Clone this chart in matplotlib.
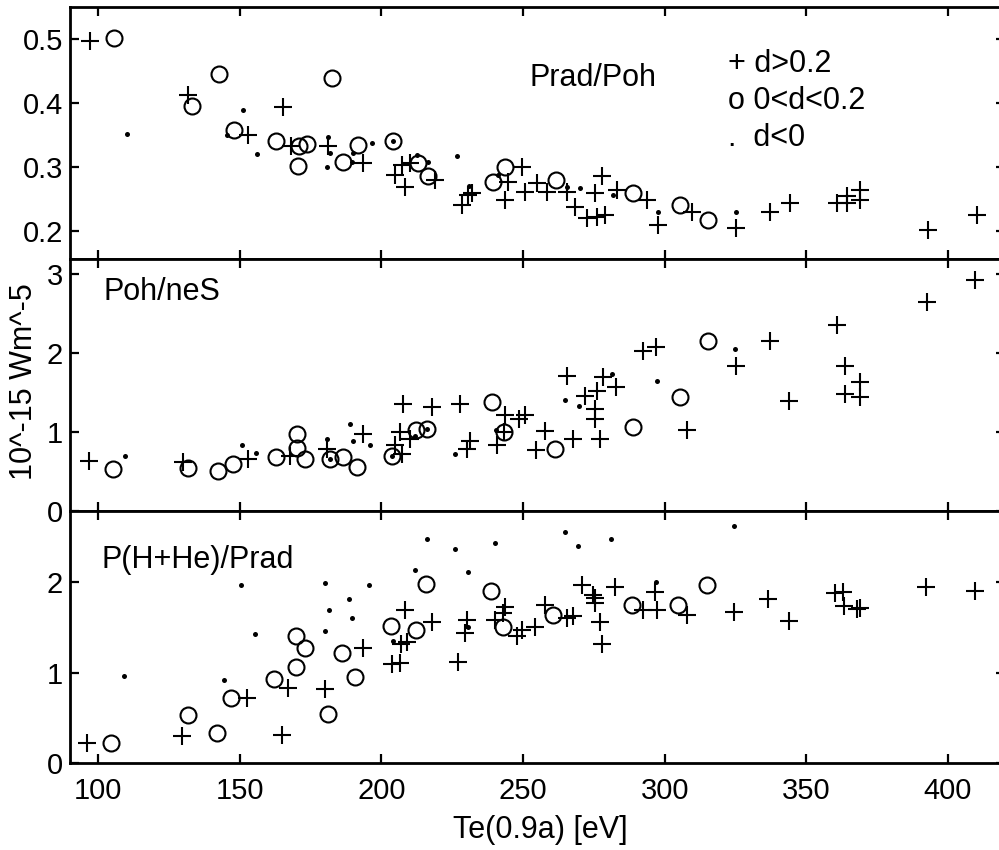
import matplotlib
matplotlib.use("Agg")
import matplotlib.pyplot as plt

plt.rcParams['font.family'] = ['Liberation Sans', 'DejaVu Sans']

# ---- Prad/Poh ----
p1_plus_te = [97.2, 131.7, 153.1, 165.4, 168.0, 181.3, 193.6, 204.8, 207.2, 208.4, 210.1, 219.0,
              228.3, 230.7, 231.9, 243.7, 244.8, 249.5, 250.7, 254.8, 258.3, 265.4, 268.4, 272.5,
              275.4, 276.0, 277.8, 278.9, 283.0, 293.7, 297.8, 309.5, 325.2, 337.2, 344.3, 360.7,
              364.2, 364.2, 369.0, 369.0, 393.0, 410.1]
p1_plus_val = [0.497, 0.412, 0.350, 0.393, 0.332, 0.333, 0.306, 0.288, 0.303, 0.269, 0.306, 0.280,
               0.241, 0.256, 0.259, 0.248, 0.277, 0.300, 0.261, 0.275, 0.261, 0.261, 0.238, 0.220,
               0.259, 0.222, 0.285, 0.225, 0.264, 0.248, 0.209, 0.230, 0.204, 0.230, 0.243, 0.243,
               0.254, 0.243, 0.264, 0.248, 0.202, 0.225]
p1_circ_te = [105.8, 133.1, 142.7, 148.1, 162.8, 170.7, 171.1, 173.9, 182.5, 186.6, 191.9, 204.2,
              213.1, 216.6, 239.3, 243.7, 261.7, 288.9, 305.4, 315.4]
p1_circ_val = [0.501, 0.395, 0.445, 0.358, 0.341, 0.302, 0.332, 0.336, 0.439, 0.308, 0.334, 0.340,
               0.306, 0.285, 0.277, 0.300, 0.280, 0.259, 0.241, 0.217]
p1_dot_te = [110.1, 145.4, 151.3, 156.0, 180.9, 181.3, 181.9, 189.5, 190.1, 196.6, 204.2, 212.5,
             216.6, 226.6, 231.0, 241.3, 265.4, 270.1, 281.6, 297.8, 325.2]
p1_dot_val = [0.352, 0.350, 0.389, 0.320, 0.300, 0.346, 0.321, 0.308, 0.322, 0.337, 0.340, 0.319,
              0.308, 0.317, 0.270, 0.288, 0.269, 0.267, 0.256, 0.230, 0.230]

# ---- Poh/neS ----
p2_plus_te = [96.9, 129.9, 153.1, 167.8, 180.7, 193.6, 204.8, 206.6, 207.2, 207.8, 210.1, 217.8,
              227.8, 230.1, 231.3, 240.7, 243.3, 243.7, 248.4, 250.7, 254.6, 257.8, 265.6, 267.5,
              271.9, 275.4, 275.4, 276.0, 277.2, 278.1, 282.8, 292.5, 297.0, 308.0, 325.2, 337.2,
              344.0, 360.9, 363.7, 363.7, 368.8, 368.8, 392.5, 409.6]
p2_plus_val = [0.635, 0.614, 0.66, 0.70, 0.78, 0.975, 0.83, 0.995, 0.72, 1.356, 0.91, 1.32,
               1.356, 0.78, 0.89, 0.83, 0.995, 1.21, 1.165, 1.21, 0.77, 1.017, 1.715, 0.91,
               1.46, 1.29, 1.165, 1.525, 0.91, 1.694, 1.576, 2.03, 2.08, 1.025, 1.83, 2.15,
               1.39, 2.35, 1.84, 1.48, 1.63, 1.44, 2.65, 2.93]
p2_circ_te = [105.2, 131.9, 142.5, 147.8, 162.8, 170.1, 170.1, 173.1, 181.9, 186.6, 191.3, 203.6,
              212.2, 216.0, 238.9, 243.3, 261.3, 288.7, 305.4, 315.4]
p2_circ_val = [0.53, 0.55, 0.51, 0.59, 0.68, 0.975, 0.80, 0.66, 0.66, 0.68, 0.56, 0.70,
               1.025, 1.04, 1.376, 0.995, 0.78, 1.067, 1.44, 2.15]
p2_dot_te = [109.5, 150.7, 155.8, 180.7, 181.9, 189.0, 189.9, 196.0, 203.6, 211.9, 216.0, 226.0,
             240.5, 264.8, 269.9, 281.3, 297.4, 324.9]
p2_dot_val = [0.70, 0.83, 0.73, 0.91, 0.66, 1.10, 0.89, 0.83, 0.70, 0.95, 1.04, 0.72,
              1.025, 1.406, 1.334, 1.737, 1.64, 2.05]

# ---- P(H+He)/Prad ----
p3_plus_te = [96.2, 129.5, 152.5, 164.8, 167.2, 180.1, 193.6, 203.7, 206.6, 206.8, 208.4, 209.0,
              217.8, 227.2, 229.5, 230.1, 240.1, 243.1, 243.7, 248.0, 249.5, 254.2, 257.8, 265.4,
              267.5, 270.7, 274.8, 275.4, 275.4, 277.2, 277.8, 282.5, 292.5, 296.6, 297.2, 307.8,
              324.5, 336.6, 343.7, 360.1, 363.1, 363.3, 367.8, 369.0, 392.1, 409.6]
p3_plus_val = [0.225, 0.30, 0.715, 0.309, 0.832, 0.814, 1.267, 1.094, 1.10, 1.32, 1.69, 1.34,
               1.56, 1.12, 1.433, 1.58, 1.58, 1.66, 1.72, 1.40, 1.47, 1.50, 1.746, 1.60,
               1.624, 1.967, 1.856, 1.82, 1.765, 1.56, 1.32, 1.94, 1.69, 1.89, 1.69, 1.635,
               1.67, 1.81, 1.57, 1.88, 1.89, 1.73, 1.70, 1.71, 1.94, 1.90]
p3_circ_te = [104.6, 131.7, 141.9, 146.9, 162.1, 169.9, 169.9, 173.1, 181.3, 186.0, 190.7, 203.4,
              212.2, 215.8, 238.7, 242.8, 260.7, 288.4, 304.8, 314.8]
p3_circ_val = [0.218, 0.53, 0.335, 0.72, 0.925, 1.064, 1.403, 1.267, 0.54, 1.22, 0.954, 1.514,
               1.47, 1.98, 1.90, 1.50, 1.635, 1.746, 1.746, 1.967]
p3_dot_te = [109.3, 144.6, 150.5, 155.4, 180.1, 181.6, 180.1, 188.7, 189.5, 195.8, 204.2, 211.9,
             216.0, 226.0, 230.4, 230.4, 240.1, 264.8, 269.5, 281.1, 297.0, 324.5]
p3_dot_val = [0.965, 0.917, 1.967, 1.425, 1.99, 1.69, 1.46, 1.81, 1.60, 1.967, 1.35, 2.13,
              2.475, 2.36, 2.114, 1.506, 2.43, 2.556, 2.40, 2.475, 2.00, 2.62]

x_ticks = [100, 150, 200, 250, 300, 350, 400]
panel_titles = ["Prad/Poh", "Poh/neS", "P(H+He)/Prad"]
panel_ylims = [(0.156, 0.55), (0, 3.19), (0, 2.785)]
panel_yticks = [[0.2, 0.3, 0.4, 0.5], [0, 1, 2, 3], [0, 1, 2]]
legend_lines = ["+ d>0.2", "o 0<d<0.2", ".  d<0"]

W, H = 999, 850
fig = plt.figure(figsize=(W / 100, H / 100), dpi=100)

left_px, right_px = 69.7, 1004.7
rows = [(7, 259), (259, 511), (511, 763)]
FS = 21
TFS = 22

panels = [
    (p1_plus_te, p1_plus_val, p1_circ_te, p1_circ_val, p1_dot_te, p1_dot_val),
    (p2_plus_te, p2_plus_val, p2_circ_te, p2_circ_val, p2_dot_te, p2_dot_val),
    (p3_plus_te, p3_plus_val, p3_circ_te, p3_circ_val, p3_dot_te, p3_dot_val),
]

axes = []
for i, ((top, bot), data) in enumerate(zip(rows, panels)):
    ax = fig.add_axes([left_px / W, 1 - bot / H, (right_px - left_px) / W, (bot - top) / H])
    pt, pv, ct, cv, dt, dv = data
    ax.plot(pt, pv, linestyle='none', marker='+', color='black', markersize=12.5, mew=1.5)
    ax.plot(ct, cv, linestyle='none', marker='o', mfc='none', mec='black', markersize=11.5, mew=1.5)
    ax.plot(dt, dv, linestyle='none', marker='o', color='black', markersize=3.6, mew=0)
    ax.set_xlim(90, 420)
    ax.set_ylim(*panel_ylims[i])
    ax.set_xticks(x_ticks)
    ax.set_yticks(panel_yticks[i])
    ax.tick_params(direction='in', length=6.5, width=1.6, top=True, right=True,
                   labelsize=FS, pad=5)
    ax.tick_params(axis='x', pad=10)
    if i < 2:
        ax.tick_params(labelbottom=False)
    for sp in ax.spines.values():
        sp.set_linewidth(2.0)
    axes.append(ax)

axes[0].set_yticklabels(["0.2", "0.3", "0.4", "0.5"])

# panel names
fig.text(530 / W, 1 - 86 / H, panel_titles[0], fontsize=TFS, ha='left', va='baseline')
fig.text(103 / W, 1 - 300 / H, panel_titles[1], fontsize=TFS, ha='left', va='baseline')
fig.text(102 / W, 1 - 568 / H, panel_titles[2], fontsize=TFS, ha='left', va='baseline')

# marker key
for s, yb in zip(legend_lines, [72, 109, 146]):
    fig.text(728 / W, 1 - yb / H, s, fontsize=TFS, ha='left', va='baseline')

fig.text(540 / W, 1 - 830 / H, "Te(0.9a) [eV]", fontsize=TFS, ha='center', va='center')
fig.text(24 / W, 1 - 382 / H, "10^-15 Wm^-5", fontsize=TFS, ha='center', va='center', rotation=90)

fig.savefig("out.png", dpi=100, facecolor='white')
